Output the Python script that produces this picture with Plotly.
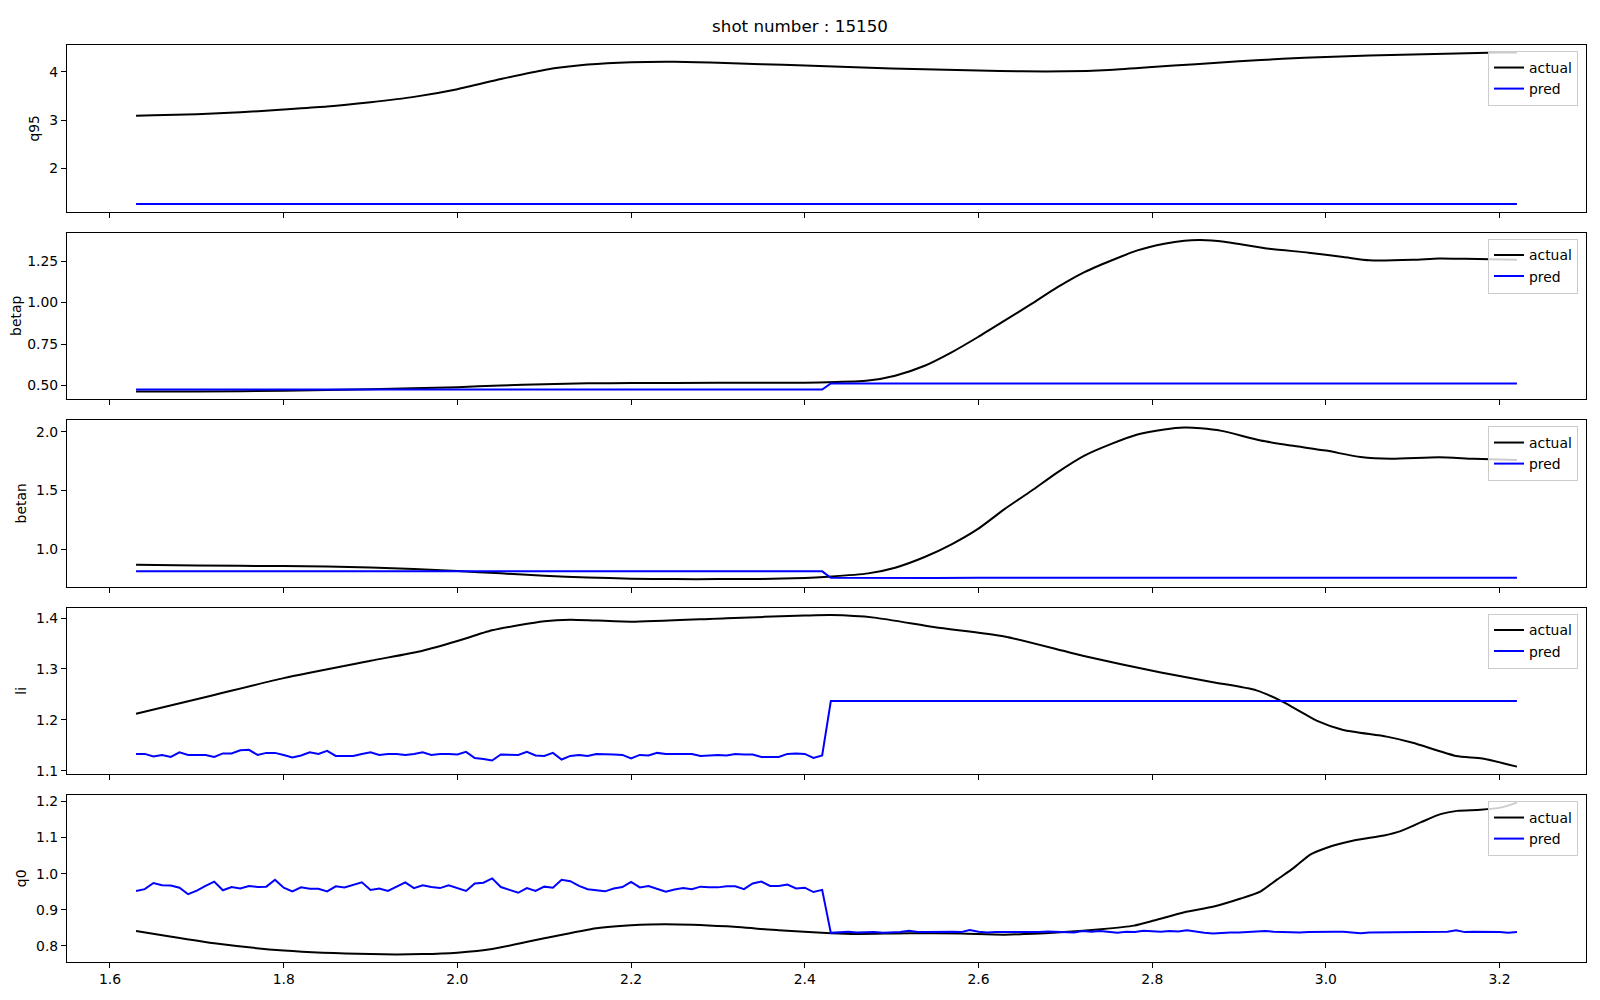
import plotly.graph_objects as go
from plotly.subplots import make_subplots

TITLE = "shot number : 15150"
PANELS = ["q95", "betap", "betan", "li", "q0"]

# prediction sampling grid (0.01 s step): 1.63 .. 3.22
T = [round(1.63 + 0.01 * i, 2) for i in range(160)]
T_EARLY = T[:80]   # 1.63 .. 2.42
T_LATE = T[80:]    # 2.43 .. 3.22

# ---------------- q95 ----------------
q95_act_t = [1.63, 1.65, 1.70, 1.75, 1.80, 1.85, 1.90, 1.95, 2.00, 2.05, 2.10, 2.15, 2.20, 2.25, 2.30,
             2.35, 2.40, 2.45, 2.50, 2.55, 2.60, 2.65, 2.70, 2.75, 2.80, 2.85, 2.90, 2.95, 3.00, 3.05,
             3.10, 3.15, 3.20, 3.22]
q95_act = [3.09, 3.10, 3.12, 3.16, 3.22, 3.28, 3.37, 3.48, 3.64, 3.85, 4.04, 4.15, 4.20, 4.21, 4.19,
           4.16, 4.13, 4.10, 4.07, 4.05, 4.03, 4.01, 4.01, 4.04, 4.10, 4.16, 4.22, 4.27, 4.31, 4.34,
           4.36, 4.38, 4.40, 4.40]
q95_pred_t = [1.63, 3.22]
q95_pred = [1.253, 1.253]

# ---------------- betap ----------------
betap_act_t = [1.63, 1.70, 1.80, 1.90, 2.00, 2.05, 2.10, 2.15, 2.20, 2.30, 2.40, 2.427, 2.473, 2.504,
               2.538, 2.569, 2.599, 2.630, 2.661, 2.691, 2.722, 2.753, 2.783, 2.814, 2.837, 2.856,
               2.883, 2.935, 2.98, 3.02, 3.05, 3.10, 3.13, 3.16, 3.22]
betap_act = [0.463, 0.464, 0.468, 0.477, 0.490, 0.500, 0.508, 0.513, 0.515, 0.516, 0.517, 0.519, 0.530,
             0.559, 0.619, 0.700, 0.791, 0.891, 0.992, 1.093, 1.184, 1.254, 1.315, 1.355, 1.373, 1.377,
             1.367, 1.325, 1.301, 1.275, 1.255, 1.258, 1.266, 1.264, 1.258]
betap_pred_t = [1.63, 1.70, 1.80, 1.90, 2.00, 2.10, 2.20, 2.30, 2.40, 2.42,
                2.43, 2.50, 2.60, 2.70, 2.80, 2.90, 3.00, 3.10, 3.20, 3.22]
betap_pred = [0.476, 0.476, 0.477, 0.477, 0.476, 0.476, 0.475, 0.476, 0.476, 0.476,
              0.512, 0.512, 0.511, 0.512, 0.512, 0.511, 0.512, 0.512, 0.511, 0.512]

# ---------------- betan ----------------
betan_act_t = [1.63, 1.70, 1.80, 1.85, 1.90, 1.95, 2.00, 2.05, 2.10, 2.15, 2.20, 2.25, 2.30, 2.35, 2.40,
               2.427, 2.473, 2.504, 2.538, 2.569, 2.599, 2.630, 2.661, 2.691, 2.722, 2.753, 2.783,
               2.814, 2.837, 2.856, 2.88, 2.925, 2.96, 3.00, 3.04, 3.075, 3.13, 3.17, 3.22]
betan_act = [0.868, 0.862, 0.857, 0.853, 0.845, 0.832, 0.815, 0.795, 0.775, 0.760, 0.750, 0.746, 0.746,
             0.748, 0.755, 0.766, 0.795, 0.843, 0.934, 1.042, 1.171, 1.342, 1.498, 1.655, 1.797, 1.897,
             1.977, 2.020, 2.036, 2.030, 2.008, 1.926, 1.883, 1.840, 1.785, 1.770, 1.783, 1.770, 1.760]
betan_pred_t = [1.63, 2.42, 2.43, 2.45, 2.50, 2.55, 2.60, 2.65, 2.70, 2.75, 2.80, 2.85, 2.90, 2.95, 3.00,
                3.05, 3.10, 3.15, 3.20, 3.22]
betan_pred = [0.812, 0.812, 0.758, 0.757, 0.757, 0.756, 0.758, 0.757, 0.757, 0.758, 0.757, 0.756, 0.757,
              0.757, 0.758, 0.757, 0.757, 0.758, 0.757, 0.757]

# ---------------- li ----------------
li_act_t = [1.63, 1.72, 1.80, 1.90, 1.96, 2.00, 2.04, 2.10, 2.13, 2.20, 2.31, 2.40, 2.43, 2.48, 2.55,
            2.63, 2.72, 2.81, 2.87, 2.92, 2.95, 2.99, 3.02, 3.07, 3.10, 3.15, 3.18, 3.22]
li_act = [1.212, 1.249, 1.282, 1.316, 1.336, 1.355, 1.376, 1.394, 1.397, 1.393, 1.400, 1.405, 1.406,
          1.401, 1.382, 1.364, 1.326, 1.293, 1.274, 1.258, 1.236, 1.198, 1.180, 1.167, 1.155, 1.129,
          1.124, 1.108]
li_pred_early = [1.133, 1.133, 1.128, 1.131, 1.127, 1.136, 1.131, 1.131, 1.131, 1.127,
                 1.134, 1.134, 1.140, 1.141, 1.131, 1.135, 1.135, 1.131, 1.126, 1.130,
                 1.136, 1.133, 1.139, 1.129, 1.129, 1.129, 1.133, 1.136, 1.131, 1.133,
                 1.133, 1.131, 1.133, 1.136, 1.131, 1.133, 1.133, 1.132, 1.137, 1.125,
                 1.123, 1.120, 1.132, 1.132, 1.131, 1.137, 1.130, 1.129, 1.135, 1.122,
                 1.129, 1.131, 1.129, 1.133, 1.133, 1.132, 1.131, 1.124, 1.131, 1.130,
                 1.135, 1.133, 1.133, 1.133, 1.133, 1.129, 1.130, 1.131, 1.130, 1.133,
                 1.132, 1.132, 1.127, 1.127, 1.127, 1.133, 1.134, 1.133, 1.125, 1.130]
li_pred_late_t = [2.43, 3.22]
li_pred_late = [1.237, 1.237]

# ---------------- q0 ----------------
q0_act_t = [1.63, 1.72, 1.80, 1.90, 1.96, 2.00, 2.04, 2.10, 2.16, 2.20, 2.24, 2.31, 2.37, 2.43, 2.46,
            2.52, 2.58, 2.63, 2.69, 2.741, 2.779, 2.802, 2.837, 2.871, 2.902, 2.925, 2.944, 2.963,
            2.982, 3.001, 3.032, 3.067, 3.086, 3.109, 3.132, 3.151, 3.178, 3.201, 3.22]
q0_act = [0.841, 0.807, 0.787, 0.777, 0.777, 0.781, 0.791, 0.821, 0.849, 0.857, 0.860, 0.854, 0.843,
          0.835, 0.833, 0.835, 0.834, 0.831, 0.837, 0.846, 0.856, 0.870, 0.893, 0.909, 0.931, 0.951,
          0.984, 1.016, 1.053, 1.072, 1.092, 1.106, 1.118, 1.142, 1.165, 1.174, 1.177, 1.183, 1.197]
q0_pred_early = [0.952, 0.957, 0.974, 0.968, 0.967, 0.961, 0.943, 0.953, 0.966, 0.978,
                 0.954, 0.963, 0.959, 0.966, 0.963, 0.964, 0.983, 0.961, 0.951, 0.962,
                 0.958, 0.958, 0.951, 0.965, 0.962, 0.969, 0.976, 0.955, 0.959, 0.952,
                 0.964, 0.976, 0.960, 0.968, 0.963, 0.960, 0.968, 0.960, 0.952, 0.973,
                 0.975, 0.987, 0.963, 0.955, 0.947, 0.960, 0.952, 0.964, 0.961, 0.983,
                 0.979, 0.966, 0.957, 0.954, 0.951, 0.959, 0.963, 0.977, 0.962, 0.966,
                 0.958, 0.950, 0.956, 0.960, 0.957, 0.964, 0.962, 0.962, 0.965, 0.965,
                 0.957, 0.973, 0.978, 0.966, 0.966, 0.970, 0.959, 0.961, 0.949, 0.955]
q0_pred_late = [0.836, 0.837, 0.839, 0.837, 0.838, 0.838, 0.836, 0.837, 0.838, 0.842,
                0.838, 0.838, 0.839, 0.838, 0.839, 0.838, 0.844, 0.839, 0.837, 0.838,
                0.838, 0.837, 0.838, 0.839, 0.838, 0.840, 0.839, 0.838, 0.837, 0.841,
                0.839, 0.841, 0.838, 0.836, 0.839, 0.838, 0.842, 0.840, 0.839, 0.841,
                0.840, 0.843, 0.839, 0.836, 0.834, 0.836, 0.837, 0.837, 0.838, 0.841,
                0.841, 0.839, 0.838, 0.837, 0.837, 0.838, 0.839, 0.840, 0.839, 0.839,
                0.838, 0.835, 0.837, 0.837, 0.838, 0.837, 0.838, 0.838, 0.839, 0.838,
                0.837, 0.839, 0.843, 0.838, 0.839, 0.839, 0.837, 0.838, 0.836, 0.838]

DATA = {
    "q95": (q95_act_t, q95_act, q95_pred_t, q95_pred),
    "betap": (betap_act_t, betap_act, betap_pred_t, betap_pred),
    "betan": (betan_act_t, betan_act, betan_pred_t, betan_pred),
    "li": (li_act_t, li_act, T_EARLY[:len(li_pred_early)] + li_pred_late_t, li_pred_early + li_pred_late),
    "q0": (q0_act_t, q0_act, T_EARLY[:len(q0_pred_early)] + T_LATE[:len(q0_pred_late)],
           q0_pred_early + q0_pred_late),
}
YTICKS = {
    "q95": (2, 1, ".0f"),
    "betap": (0.5, 0.25, ".2f"),
    "betan": (1.0, 0.5, ".1f"),
    "li": (1.1, 0.1, ".1f"),
    "q0": (0.8, 0.1, ".1f"),
}

# ---------------- layout geometry (px, figure coords; page adds an 8px body margin) ----------------
W, H = 1584, 984
ML, MR, MT, MB = 59, 6, 37, 30
PW, PH = W - ML - MR, H - MT - MB
PANEL_H = 166.7
PANEL_STEP = 187.5
FONT = "DejaVu Sans"
FS = 13.9

fig = make_subplots(rows=5, cols=1, shared_xaxes=True, vertical_spacing=0.02)

all_t = []
for k, name in enumerate(PANELS):
    at, av, pt, pv = DATA[name]
    all_t += list(at) + list(pt)
    leg = "legend" if k == 0 else f"legend{k + 1}"
    fig.add_trace(go.Scatter(x=at, y=av, mode="lines", name="actual",
                             line=dict(color="black", width=2, shape="spline", smoothing=0.6),
                             legend=leg), row=k + 1, col=1)
    fig.add_trace(go.Scatter(x=pt, y=pv, mode="lines", name="pred",
                             line=dict(color="blue", width=2), legend=leg), row=k + 1, col=1)

xmin, xmax = min(all_t), max(all_t)
xpad = 0.05 * (xmax - xmin)

axis_common = dict(showline=True, mirror=True, linecolor="black", linewidth=1.1,
                   ticks="outside", ticklen=5, tickwidth=1.1, tickcolor="black",
                   showgrid=False, zeroline=False, automargin=False,
                   tickfont=dict(family=FONT, size=FS, color="black"))


def clamp(v):
    return min(1.0, max(0.0, v))


for k, name in enumerate(PANELS):
    at, av, pt, pv = DATA[name]
    vals = list(av) + list(pv)
    lo, hi = min(vals), max(vals)
    pad = 0.05 * (hi - lo)
    top_px = MT + PANEL_STEP * k
    bot_px = top_px + PANEL_H
    dom = [clamp((MT + PH - bot_px) / PH), clamp((MT + PH - top_px) / PH)]
    t0, dt, fmt = YTICKS[name]
    ysuffix = "" if k == 0 else str(k + 1)
    fig.layout["yaxis" + ysuffix].update(
        domain=dom, range=[lo - pad, hi + pad], tick0=t0, dtick=dt, tickformat=fmt,
        title=dict(text=name, font=dict(family=FONT, size=FS, color="black"), standoff=6),
        **axis_common)
    fig.layout["xaxis" + ysuffix].update(
        range=[xmin - xpad, xmax + xpad], tick0=1.6, dtick=0.2, tickformat=".1f",
        showticklabels=(k == len(PANELS) - 1), **axis_common)
    leg = "legend" if k == 0 else f"legend{k + 1}"
    fig.layout[leg] = dict(
        x=(W - MR - 8 - ML) / PW, y=clamp((MT + PH - (top_px + 6)) / PH), xanchor="right", yanchor="top",
        bgcolor="rgba(255,255,255,0.8)", bordercolor="#cccccc", borderwidth=1,
        font=dict(family=FONT, size=FS, color="black"), itemwidth=30, tracegroupgap=0)

fig.update_layout(
    width=W, height=H,
    margin=dict(l=ML, r=MR, t=MT, b=MB),
    paper_bgcolor="white", plot_bgcolor="white",
    font=dict(family=FONT, size=FS, color="black"),
    title=dict(text=TITLE, x=0.5, xref="container", xanchor="center",
               y=1 - 18.5 / H, yref="container", yanchor="middle",
               font=dict(family=FONT, size=16.7, color="black")),
)

fig.write_html("out.html")
